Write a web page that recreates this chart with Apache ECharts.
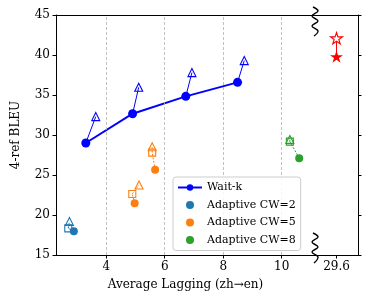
<!DOCTYPE html>
<html><head><meta charset="utf-8">
<script src="https://cdn.jsdelivr.net/npm/echarts@6/dist/echarts.min.js"></script>
<style>html,body{margin:0;padding:0;background:#fff}#c{width:376px;height:301px}</style>
</head><body><div id="c"></div>
<script>
// ---- data ----
var waitkAL = [3.30, 4.90, 6.72, 8.49];
var waitkBLEU = [29.0, 32.66, 34.83, 36.58];
var waitkTriAL = [3.64, 5.11, 6.93, 8.72];
var waitkTriBLEU = [32.3, 35.96, 37.8, 39.3];

var cw2CircAL = [2.89], cw2CircBLEU = [17.96];
var cw2SqAL = [2.70], cw2SqBLEU = [18.33];
var cw2TriAL = [2.74], cw2TriBLEU = [19.2];

var cw5CircAL = [4.97, 5.67], cw5CircBLEU = [21.46, 25.66];
var cw5SqAL = [4.89, 5.57], cw5SqBLEU = [22.62, 27.8];
var cw5TriAL = [5.12, 5.57], cw5TriBLEU = [23.75, 28.54];

var cw8CircAL = [10.60], cw8CircBLEU = [27.1];
var cw8SqAL = [10.28], cw8SqBLEU = [29.17];
var cw8TriAL = [10.28], cw8TriBLEU = [29.45];

var offlineAL = [29.6, 29.6];
var offlineBLEU = [39.8, 42.1];

var xTicksMain = [4, 6, 8, 10];
var xTicksRight = [29.6];
var yTicks = [15, 20, 25, 30, 35, 40, 45];

// ---- helpers ----
function pts(xs, ys) { return xs.map(function (x, i) { return [x, ys[i]]; }); }
var FONT = 'DejaVu Serif';
var STAR = 'path://M50,0 L61.2,34.5 L97.6,34.5 L68.2,55.9 L79.4,90.5 L50,69.1 L20.6,90.5 L31.8,55.9 L2.4,34.5 L38.8,34.5 Z';

var series = [];
series.push({
  type: 'line', name: '_grid', xAxisIndex: 0, yAxisIndex: 0, data: [], silent: true,
  markLine: { silent: true, symbol: 'none', label: { show: false },
    lineStyle: { color: '#b0b0b0', type: [3, 2], width: 0.8 },
    data: xTicksMain.map(function (v) { return { xAxis: v }; }) }
});
function connectors(ax, ay, bx, by, color, dashed, width) {
  for (var i = 0; i < ax.length; i++) {
    series.push({ type: 'line', name: '_c', xAxisIndex: 0, yAxisIndex: 0, symbol: 'none', silent: true,
      data: [[ax[i], ay[i]], [bx[i], by[i]]],
      lineStyle: { color: color, width: width, type: dashed ? [2, 1.5] : 'solid' }, z: 1 });
  }
}
connectors(waitkAL, waitkBLEU, waitkTriAL, waitkTriBLEU, '#0000ff', false, 1);
function scatter(name, xs, ys, symbol, size, color, filled) {
  series.push({ type: 'scatter', name: name, xAxisIndex: 0, yAxisIndex: 0, symbol: symbol, symbolSize: size,
    data: pts(xs, ys), z: 3, color: color,
    itemStyle: filled ? { color: color, opacity: 1 } : { color: 'rgba(255,255,255,0)', borderColor: color, borderWidth: 1.1, opacity: 1 } });
}
series.push({ type: 'line', name: 'Wait-k', xAxisIndex: 0, yAxisIndex: 0, data: pts(waitkAL, waitkBLEU),
  symbol: 'circle', symbolSize: 9, showSymbol: true, color: '#0000ff',
  lineStyle: { color: '#0000ff', width: 2 }, itemStyle: { color: '#0000ff' }, z: 4 });
scatter('_wt', waitkTriAL, waitkTriBLEU, 'triangle', 8, '#0000ff', false);

var groups = [
  ['Adaptive CW=2', '#1f77b4', cw2CircAL, cw2CircBLEU, cw2SqAL, cw2SqBLEU, cw2TriAL, cw2TriBLEU],
  ['Adaptive CW=5', '#ff7f0e', cw5CircAL, cw5CircBLEU, cw5SqAL, cw5SqBLEU, cw5TriAL, cw5TriBLEU],
  ['Adaptive CW=8', '#2ca02c', cw8CircAL, cw8CircBLEU, cw8SqAL, cw8SqBLEU, cw8TriAL, cw8TriBLEU]
];
groups.forEach(function (g) {
  connectors(g[2], g[3], g[4], g[5], g[1], true, 1);
  connectors(g[4], g[5], g[6], g[7], g[1], true, 1);
  scatter('_sq', g[4], g[5], 'rect', 7, g[1], false);
  scatter('_tr', g[6], g[7], 'triangle', 8, g[1], false);
  scatter(g[0], g[2], g[3], 'circle', 8, g[1], true);
});

series.push({ type: 'line', name: '_off', xAxisIndex: 1, yAxisIndex: 1, symbol: 'none', silent: true,
  data: pts(offlineAL, offlineBLEU), lineStyle: { color: '#ff0000', width: 1 } });
series.push({ type: 'scatter', name: '_s1', xAxisIndex: 1, yAxisIndex: 1, symbol: STAR, symbolSize: 13, symbolKeepAspect: true,
  data: [[offlineAL[0], offlineBLEU[0]]], itemStyle: { color: '#ff0000', opacity: 1 }, z: 3 });
series.push({ type: 'scatter', name: '_s2', xAxisIndex: 1, yAxisIndex: 1, symbol: STAR, symbolSize: 12, symbolKeepAspect: true,
  data: [[offlineAL[1], offlineBLEU[1]]], itemStyle: { color: '#fff', borderColor: '#ff0000', borderWidth: 1.1, opacity: 1 }, z: 3 });

var axisLineStyle = { color: '#000', width: 1 };
var lbl = { color: '#000', fontFamily: FONT, fontSize: 12 };

var option = {
  animation: false,
  textStyle: { fontFamily: FONT },
  grid: [
    { left: 56, top: 15, width: 259, height: 240 },
    { left: 315, top: 15, width: 43, height: 240 }
  ],
  xAxis: [
    { gridIndex: 0, type: 'value', min: 2.28, max: 11.14, position: 'bottom',
      name: 'Average Lagging (zh\u2192en)', nameLocation: 'middle', nameGap: 24,
      nameTextStyle: { color: '#000', fontFamily: FONT, fontSize: 12 },
      axisLine: { show: true, onZero: false, lineStyle: axisLineStyle },
      axisTick: { show: true, length: 3.5, customValues: xTicksMain, lineStyle: axisLineStyle },
      axisLabel: Object.assign({ customValues: xTicksMain, margin: 6 }, lbl),
      splitLine: { show: false } },
    { gridIndex: 1, type: 'value', min: 29.1, max: 30.1, position: 'bottom',
      axisLine: { show: true, onZero: false, lineStyle: axisLineStyle },
      axisTick: { show: true, length: 3.5, customValues: xTicksRight, lineStyle: axisLineStyle },
      axisLabel: Object.assign({ customValues: xTicksRight, margin: 6, formatter: function (v) { return v.toFixed(1); } }, lbl),
      splitLine: { show: false } },
    { gridIndex: 0, type: 'value', min: 2.28, max: 11.14, position: 'top',
      axisLine: { show: true, onZero: false, lineStyle: axisLineStyle },
      axisTick: { show: false }, axisLabel: { show: false }, splitLine: { show: false } },
    { gridIndex: 1, type: 'value', min: 29.1, max: 30.1, position: 'top',
      axisLine: { show: true, onZero: false, lineStyle: axisLineStyle },
      axisTick: { show: false }, axisLabel: { show: false }, splitLine: { show: false } }
  ],
  yAxis: [
    { gridIndex: 0, type: 'value', min: 15, max: 45, interval: 5, position: 'left',
      name: '4-ref BLEU', nameLocation: 'middle', nameGap: 34,
      nameTextStyle: { color: '#000', fontFamily: FONT, fontSize: 12 },
      axisLine: { show: true, onZero: false, lineStyle: axisLineStyle },
      axisTick: { show: true, length: 3.5, lineStyle: axisLineStyle },
      axisLabel: Object.assign({ margin: 6 }, lbl),
      splitLine: { show: false } },
    { gridIndex: 1, type: 'value', min: 15, max: 45, interval: 5, position: 'right',
      axisLine: { show: true, onZero: false, lineStyle: axisLineStyle },
      axisTick: { show: true, length: 3.5, lineStyle: axisLineStyle },
      axisLabel: { show: false }, splitLine: { show: false } }
  ],
  legend: {
    data: ['Wait-k', 'Adaptive CW=2', 'Adaptive CW=5', 'Adaptive CW=8'],
    orient: 'vertical', left: 173, top: 177,
    itemWidth: 24, itemHeight: 8, itemGap: 4.5,
    padding: [4, 5, 4, 4],
    backgroundColor: 'rgba(255,255,255,0.85)', borderColor: '#cccccc', borderWidth: 1, borderRadius: 3,
    textStyle: { color: '#000', fontFamily: FONT, fontSize: 11, lineHeight: 13 },
    z: 10
  },
  graphic: [
    { type: 'polyline', z: 100, shape: { points: [[313, 7], [318, 11], [312, 16], [318, 21], [312, 26], [318, 31], [314, 36]], smooth: 0.4 },
      style: { stroke: '#000', lineWidth: 1.4, fill: null } },
    { type: 'polyline', z: 100, shape: { points: [[313, 233], [318, 237], [312, 242], [318, 247], [312, 252], [318, 257], [314, 263]], smooth: 0.4 },
      style: { stroke: '#000', lineWidth: 1.4, fill: null } }
  ],
  series: series
};
var chart = echarts.init(document.getElementById('c'), null, { renderer: 'canvas' });
chart.setOption(option);
</script></body></html>
